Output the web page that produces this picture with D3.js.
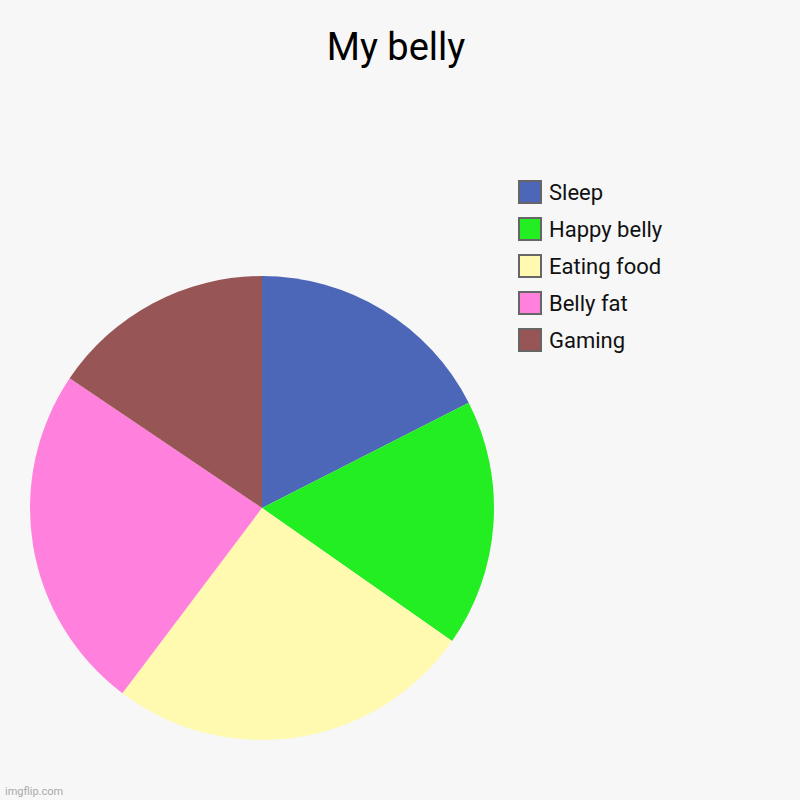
<!DOCTYPE html>
<html>
<head>
<meta charset="utf-8">
<script src="https://cdn.jsdelivr.net/npm/d3@7"></script>
<style>
  body { margin: 0; background: #f7f7f7; }
  svg { display: block; font-family: Roboto, "Noto Sans", sans-serif; }
</style>
</head>
<body>
<div id="chart"></div>
<script>
// slice sizes (degrees of the circle)
const labels = ['Sleep', 'Happy belly', 'Eating food', 'Belly fat', 'Gaming'];
const values = [63, 62, 92, 87, 56];
const colors = ['#4c66b8', '#22ee22', '#fffab0', '#ff80dd', '#975555'];

const width = 800, height = 800;
const cx = 262, cy = 508, radius = 232;

const svg = d3.select('#chart')
  .append('svg')
  .attr('width', width)
  .attr('height', height);

svg.append('rect')
  .attr('width', width)
  .attr('height', height)
  .attr('fill', '#f7f7f7');

svg.append('text')
  .attr('x', 396)
  .attr('y', 60)
  .attr('text-anchor', 'middle')
  .style('font-size', '38px')
  .attr('fill', '#000')
  .text('My belly');

const pie = d3.pie().sort(null).value(d => d);
const arc = d3.arc().innerRadius(0).outerRadius(radius);
const color = d3.scaleOrdinal().domain(labels).range(colors);

const g = svg.append('g')
  .attr('transform', `translate(${cx},${cy})`);

g.selectAll('path')
  .data(pie(values))
  .enter()
  .append('path')
  .attr('d', arc)
  .attr('fill', (d, i) => color(labels[i]));

// legend
const legend = svg.append('g')
  .selectAll('g')
  .data(labels)
  .enter().append('g')
  .attr('transform', (d, i) => `translate(519,${181 + i * 37})`);

legend.append('rect')
  .attr('width', 22)
  .attr('height', 22)
  .attr('fill', d => color(d))
  .attr('stroke', '#666')
  .attr('stroke-width', 2);

legend.append('text')
  .attr('x', 30)
  .attr('y', 11)
  .attr('dy', '0.36em')
  .style('font-size', '22px')
  .attr('fill', '#111')
  .text(d => d);

svg.append('text')
  .attr('x', 5)
  .attr('y', 795)
  .style('font-size', '11px')
  .attr('fill', '#aaa')
  .text('imgflip.com');
</script>
</body>
</html>
